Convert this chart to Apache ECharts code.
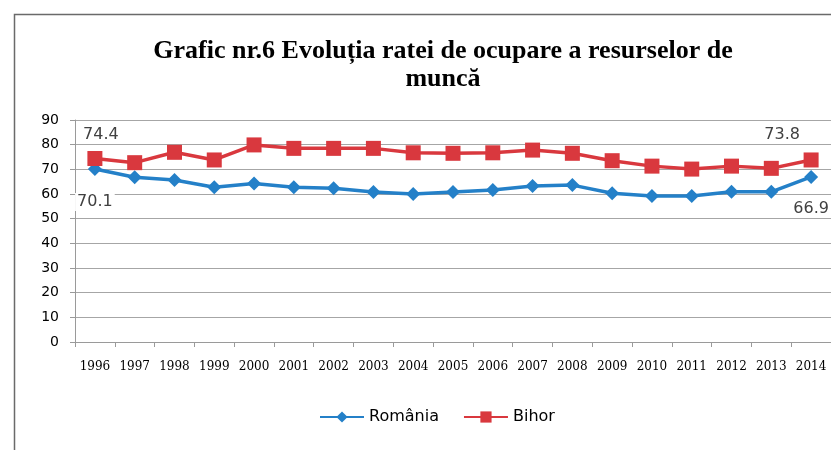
<!DOCTYPE html>
<html>
<head>
<meta charset="utf-8">
<script src="https://cdn.jsdelivr.net/npm/echarts@6/dist/echarts.min.js"></script>
<style>
  html, body { margin: 0; padding: 0; background: #fff; }
  #chart { width: 831px; height: 450px; }
</style>
</head>
<body>
<div id="chart"></div>
<script>
const years = ["1996", "1997", "1998", "1999", "2000", "2001", "2002", "2003", "2004", "2005",
  "2006", "2007", "2008", "2009", "2010", "2011", "2012", "2013", "2014"];
const romania = [70.1, 66.8, 65.7, 62.7, 64.3, 62.7, 62.3, 60.8, 60.0, 60.8,
  61.6, 63.2, 63.6, 60.3, 59.2, 59.2, 60.9, 60.9, 66.9];
const bihor = [74.4, 72.7, 76.9, 73.8, 79.9, 78.5, 78.5, 78.5, 76.7, 76.5,
  76.7, 77.8, 76.5, 73.5, 71.3, 70.1, 71.3, 70.4, 73.8];

const labelBase = {
  show: true,
  color: "#404040",
  fontFamily: "DejaVu Sans",
  fontSize: 16,
  backgroundColor: "#fff",
  padding: [1, 2]
};

// only first and last points carry value labels
function withLabels(values, first, last) {
  return values.map((v, i) => {
    if (i === 0) return { value: v, label: Object.assign({}, labelBase, first) };
    if (i === values.length - 1) return { value: v, label: Object.assign({}, labelBase, last) };
    return v;
  });
}

const chart = echarts.init(document.getElementById("chart"));
chart.setOption({
  animation: false,
  title: {
    text: "Grafic nr.6 Evoluția ratei de ocupare a resurselor de\nmuncă",
    left: 438,
    top: 32,
    textAlign: "center",
    textStyle: {
      fontFamily: "Liberation Serif",
      fontWeight: "bold",
      fontSize: 26,
      lineHeight: 28,
      color: "#000"
    }
  },
  graphic: [{
    type: "rect",
    left: 12,
    top: 12,
    shape: { width: 900, height: 600 },
    style: { fill: "none", stroke: "#6a6a6a", lineWidth: 1.5 },
    silent: true
  }],
  legend: {
    bottom: 20,
    left: 314,
    itemWidth: 44,
    itemHeight: 14,
    itemGap: 24,
    textStyle: { fontFamily: "DejaVu Sans", fontSize: 16, color: "#000" },
    data: ["România", "Bihor"]
  },
  grid: { left: 75, right: -3, top: 120, bottom: 108 },
  xAxis: {
    type: "category",
    data: years,
    boundaryGap: true,
    axisLine: { lineStyle: { color: "#9a9a9a" } },
    axisTick: { show: true, length: 5, lineStyle: { color: "#9a9a9a" } },
    axisLabel: {
      fontFamily: "DejaVu Serif",
      fontSize: 12,
      color: "#000",
      margin: 19,
      interval: 0
    }
  },
  yAxis: {
    type: "value",
    min: 0,
    max: 90,
    interval: 10,
    axisLine: { show: true, lineStyle: { color: "#9a9a9a" } },
    axisTick: { show: true, length: 5, lineStyle: { color: "#9a9a9a" } },
    splitLine: { lineStyle: { color: "#a6a6a6" } },
    axisLabel: {
      fontFamily: "DejaVu Sans",
      fontSize: 14,
      color: "#000",
      margin: 16
    }
  },
  series: [
    {
      name: "România",
      type: "line",
      symbol: "diamond",
      symbolSize: 14,
      itemStyle: { color: "#2480c8" },
      lineStyle: { color: "#2480c8", width: 3.5 },
      z: 2,
      data: withLabels(romania,
        { position: "bottom", offset: [0, 12] },
        { position: "bottom", offset: [0, 11] })
    },
    {
      name: "Bihor",
      type: "line",
      symbol: "rect",
      symbolSize: 15,
      itemStyle: { color: "#d9383e" },
      lineStyle: { color: "#d9383e", width: 3.5 },
      z: 3,
      data: withLabels(bihor,
        { position: "top", offset: [6, -2] },
        { position: "top", offset: [-29, -4] })
    }
  ]
});
</script>
</body>
</html>
